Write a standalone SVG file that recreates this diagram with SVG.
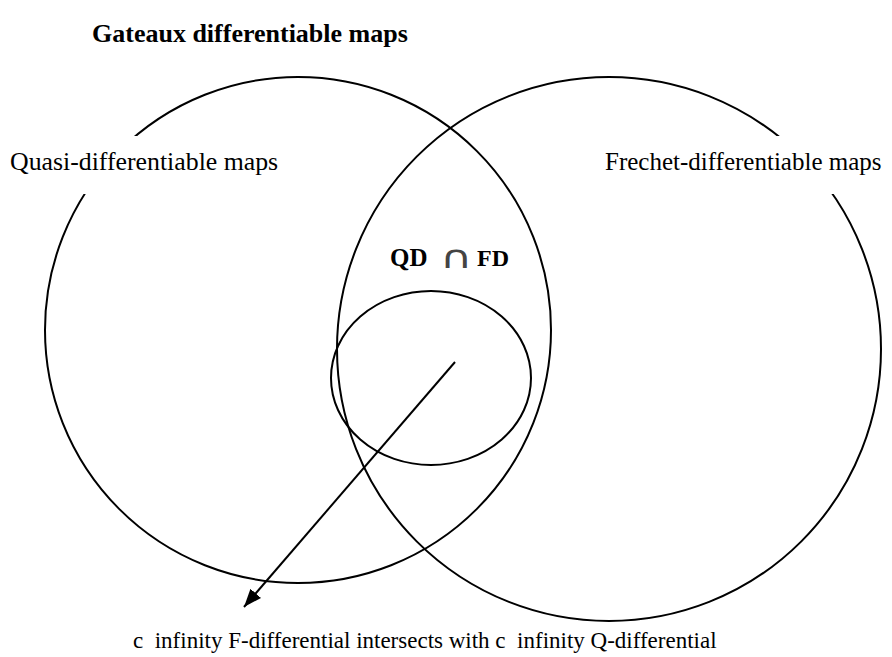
<svg xmlns="http://www.w3.org/2000/svg" width="892" height="657" viewBox="0 0 892 657">
<style>
.c{fill:none;stroke:#000;stroke-width:2}
.t{font-family:"Liberation Serif","Times New Roman",serif;fill:#000}
.b{font-weight:bold}
</style>
<defs>
<marker id="ah" markerWidth="20" markerHeight="14" refX="18" refY="7" orient="auto" markerUnits="userSpaceOnUse" viewBox="0 0 20 14">
<path d="M0,0 L18,7 L0,14 z" fill="#000"/>
</marker>
</defs>
<rect width="892" height="657" fill="#fff"/>
<g id="quasi">
<circle class="c" cx="298" cy="330" r="253"/>
</g>
<g id="frechet">
<circle class="c" cx="609" cy="349" r="272"/>
</g>
<g id="cinf">
<ellipse class="c" cx="431" cy="378" rx="100" ry="87"/>
</g>
<rect x="5" y="136" width="285" height="58" fill="#fff"/>
<rect x="600" y="136" width="292" height="58" fill="#fff"/>
<g id="labels">
<text class="t b" x="92" y="42" font-size="26">Gateaux differentiable maps</text>
<text class="t" x="10" y="170" font-size="25.8">Quasi-differentiable maps</text>
<text class="t" x="605" y="170" font-size="25">Frechet-differentiable maps</text>
<text class="t b" x="390" y="266" font-size="25">QD</text>
<text transform="translate(440,268) scale(1.4,1)" x="0" y="0" font-size="32" fill="#444" font-family="DejaVu Sans, sans-serif">∩</text>
<text class="t b" x="477" y="266" font-size="24">FD</text>
<text class="t" x="133" y="648" font-size="23" xml:space="preserve">c  infinity F-differential intersects with c  infinity Q-differential</text>
</g>
<g id="connectors">
<line x1="455" y1="362" x2="244" y2="607" stroke="#000" stroke-width="2" marker-end="url(#ah)"/>
</g>
</svg>
